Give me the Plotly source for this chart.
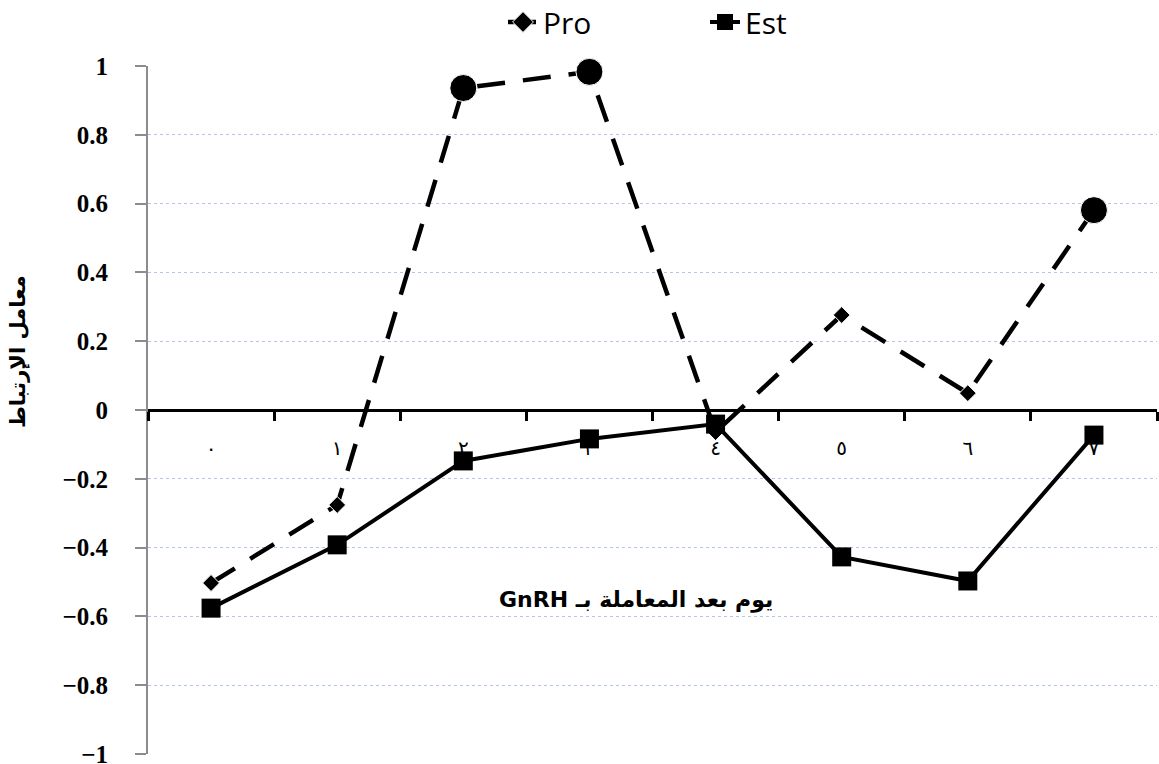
import plotly.graph_objects as go

days = ["٠", "١", "٢", "٣", "٤", "٥", "٦", "٧"]
pro = [-0.503, -0.276, 0.936, 0.983, -0.064, 0.276, 0.049, 0.581]
est = [-0.576, -0.392, -0.148, -0.084, -0.041, -0.427, -0.497, -0.073]
pro_significant = [False, False, True, True, False, False, False, True]
y_ticks = [1, 0.8, 0.6, 0.4, 0.2, 0, -0.2, -0.4, -0.6, -0.8, -1]
y_tick_text = ["1", "0.8", "0.6", "0.4", "0.2", "0", "−0.2", "−0.4", "−0.6", "−0.8", "−1"]

W, H = 1159, 764
ml, mr, mt, mb = 148, 2, 66, 10
pw, ph = W - ml - mr, H - mt - mb

fig = go.Figure()
fig.add_trace(go.Scatter(
    x=days, y=pro, name="Pro", mode="lines+markers",
    line=dict(color="black", width=4.5, dash="28px,18px"),
    marker=dict(color="black", opacity=1,
                symbol=["circle" if s else "diamond" for s in pro_significant],
                size=[27 if s else 13 for s in pro_significant]),
    cliponaxis=False,
))
fig.add_trace(go.Scatter(
    x=days, y=est, name="Est", mode="lines+markers",
    line=dict(color="black", width=4),
    marker=dict(color="black", symbol="square", size=19, opacity=1),
    cliponaxis=False,
))

fig.update_layout(
    width=W, height=H,
    margin=dict(l=ml, r=mr, t=mt, b=mb, autoexpand=False),
    paper_bgcolor="white", plot_bgcolor="white",
    showlegend=True,
    legend=dict(orientation="h", x=503 / W, xanchor="left", xref="container",
                y=1 - 22 / H, yanchor="middle", yref="container",
                font=dict(family="Open Sans", size=30, color="black"),
                entrywidth=157, entrywidthmode="pixels", itemsizing="trace"),
    xaxis=dict(type="category", range=[-0.5, 7.5], anchor="free", position=0.5,
               automargin=False,
               showline=True, linecolor="black", linewidth=3,
               ticks="outside", tickson="boundaries", ticklen=9, tickwidth=2.5,
               tickcolor="black", showgrid=False, zeroline=False,
               ticklabelstandoff=19,
               tickfont=dict(family="DejaVu Sans", size=20, color="black")),
    yaxis=dict(range=[-1, 1], tickvals=y_ticks, ticktext=y_tick_text,
               automargin=False, ticklabeloverflow="allow",
               showline=True, linecolor="#8c8c8c", linewidth=2,
               ticks="outside", ticklen=11, tickwidth=1.5, tickcolor="#8c8c8c",
               showgrid=True, gridcolor="#b3c6ea", griddash="dot", gridwidth=1.2,
               zeroline=False, ticklabelstandoff=22,
               tickfont=dict(family="Liberation Serif, Times New Roman, serif",
                             size=25, color="black", weight="bold")),
)

fig.add_annotation(text="<b>معامل الإرتباط</b>", textangle=-90,
                   xref="paper", yref="paper", xanchor="center", yanchor="middle",
                   x=-(ml - 18) / pw, y=1 - (352 - mt) / ph,
                   showarrow=False,
                   font=dict(family="DejaVu Sans", size=21, color="black"))
fig.add_annotation(text="<b>GnRH يوم بعد المعاملة بـ</b>",
                   xref="paper", yref="paper", xanchor="center", yanchor="middle",
                   x=(636 - ml) / pw, y=1 - (600 - mt) / ph,
                   showarrow=False,
                   font=dict(family="DejaVu Sans", size=22, color="black"))

fig.write_html("out.html", config={"displayModeBar": False},
               post_script="document.body.style.margin='0';")
